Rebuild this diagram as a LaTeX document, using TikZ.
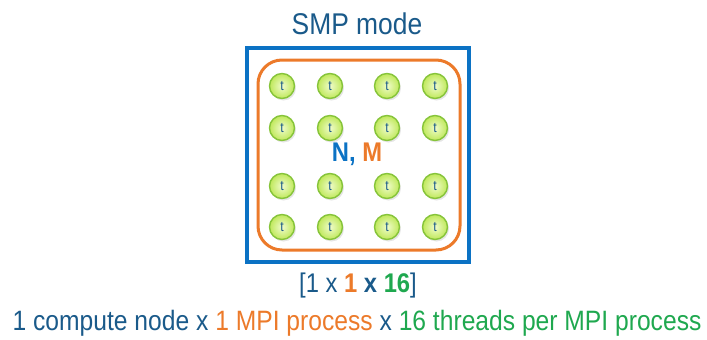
\documentclass[tikz,border=0pt]{standalone}
\usepackage{fontspec}
\setmainfont{Liberation Sans}[FakeStretch=0.88]
\usepackage{xcolor}
\usetikzlibrary{shadows}
\definecolor{smpblue}{HTML}{0B72C4}
\definecolor{txtblue}{HTML}{1A5A8A}
\definecolor{mpiorange}{HTML}{EC7A2A}
\definecolor{thrgreen}{HTML}{1FA84F}
\definecolor{thredge}{HTML}{86C43A}
\definecolor{thrin}{HTML}{F0FCCB}
\definecolor{throut}{HTML}{BFE85A}

\begin{document}
\begin{tikzpicture}[x=1pt,y=-1pt,
	thread/.style={circle, draw=thredge, line width=1.4pt, inner color=thrin, outer color=throut,
		minimum size=25pt, inner sep=0pt, text=txtblue, font=\fontsize{14}{14}\selectfont,
		drop shadow={shadow xshift=1.5pt, shadow yshift=-2pt, opacity=0.25, fill=black!40}},
	lbl/.style={inner sep=0pt, text=txtblue}]
	\useasboundingbox (0,0) rectangle (707,340);
	% node and process
	\node[draw=smpblue, line width=4pt, minimum width=222pt, minimum height=214pt] (node) at (358,155) {};
	\node[draw=mpiorange, line width=3pt, rounded corners=24pt, minimum width=202pt, minimum height=190pt] (proc) at (359,155) {};
	% threads
	\foreach \y [count=\i] in {86,128,186,227}{
		\foreach \x [count=\j] in {282,330,387,435}{
			\node[thread] (t-\i-\j) at (\x,\y) {t};
		}
	}
	\node[lbl, font=\fontsize{27}{27}\selectfont\bfseries] (nm) at (357,154) {\textcolor{smpblue}{N,} \textcolor{mpiorange}{M}};
	% labels
	\node[lbl, font=\fontsize{30}{32}\selectfont] (title) at (357,24) {SMP mode};
	\node[lbl, font=\fontsize{27}{29}\selectfont] (dims) at (358,286) {[1 x \textcolor{mpiorange}{\bfseries 1} {\bfseries x} \textcolor{thrgreen}{\bfseries 16}]};
	\node[lbl, font=\fontsize{28}{30}\selectfont] (desc) at (357,323) {1 compute node x \textcolor{mpiorange}{1 MPI process} x \textcolor{thrgreen}{16 threads per MPI process}};
\end{tikzpicture}
\end{document}
